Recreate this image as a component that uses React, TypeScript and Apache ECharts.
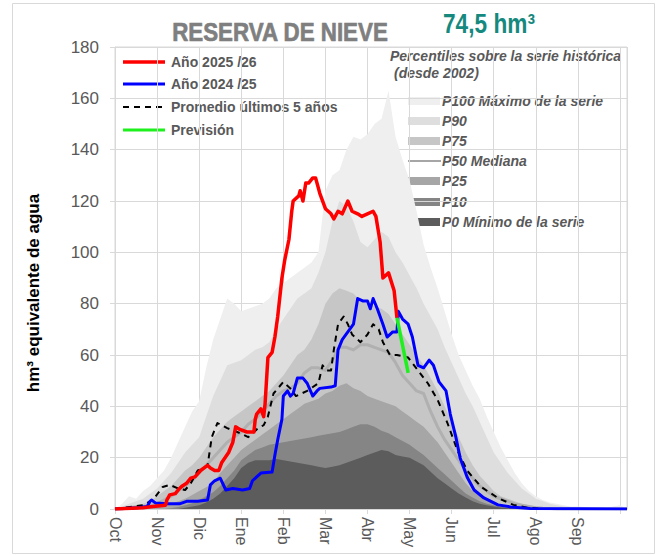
import React, { useEffect, useRef } from "react";
import * as echarts from "echarts";

const monthLabels = ["Oct", "Nov", "Dic", "Ene", "Feb", "Mar", "Abr", "May", "Jun", "Jul", "Ago", "Sep"];

// day of hydrological year (0 = 1 Oct) for percentile curves
const pctDays = [
  0, 5, 10, 15, 20, 25, 30, 35, 40, 45,
  50, 55, 60, 65, 70, 75, 80, 85, 90, 95,
  100, 105, 110, 115, 120, 125, 130, 135, 140, 145,
  150, 155, 160, 165, 170, 175, 180, 185, 190, 195,
  200, 205, 210, 215, 220, 225, 230, 235, 240, 245,
  250, 255, 260, 265, 270, 275, 280, 285, 290, 295,
  300, 305, 310, 315, 320, 325, 330, 335, 340, 345,
  350, 355, 360, 365,
];

const p100 = [
  0, 2, 5, 4, 7, 9, 12, 15, 20, 26,
  32, 38, 42, 55, 66, 74, 82, 80, 77, 78,
  79, 80, 82, 86, 88, 90, 92, 94, 96, 100,
  124, 130, 132, 140, 145, 144, 146, 150, 152, 163,
  145, 136, 128, 116, 103, 94, 86, 77, 68, 60,
  54, 48, 43, 36, 30, 24, 19, 14, 10, 7,
  5, 3.5, 2.5, 2, 1.5, 1, 1, 0.8, 0.5, 0.5,
  0.5, 1, 1.5, 0,
];
const p90 = [
  0, 1, 2, 3, 4, 6, 8, 11, 14, 18,
  22, 25, 28, 36, 44, 50, 56, 57, 58, 60,
  62, 63, 65, 70, 74, 78, 82, 84, 86, 92,
  100, 112, 120, 118, 112, 104, 102, 105, 108, 106,
  100, 96, 91, 86, 80, 75, 70, 63, 57, 51,
  45, 40, 34, 28, 22, 18, 14, 11, 8, 6,
  4, 3, 2, 1.5, 1, 0.8, 0.5, 0.3, 0.2, 0,
  0, 0.3, 0.5, 0,
];
const p75 = [
  0, 0.5, 1, 1.5, 2, 3, 5, 7, 9, 12,
  15, 17, 20, 24, 28, 31, 34, 36, 38, 40,
  42, 44, 46, 49, 52, 56, 60, 62, 66, 72,
  80, 84, 86, 85, 84, 81, 80, 79, 78, 76,
  72, 68, 64, 60, 56, 51, 46, 40, 34, 28,
  22, 17, 13, 10, 7, 5, 4, 3, 2, 1.5,
  1, 0.8, 0.6, 0.5, 0.3, 0.2, 0.1, 0, 0, 0,
  0, 0, 0, 0,
];
const p50 = [
  0, 0, 0.5, 0.8, 1, 1.5, 2, 3.5, 5, 7,
  9, 11, 14, 17, 20, 23, 26, 28, 30, 33,
  35, 38, 41, 44, 46, 47, 49, 53, 55, 55,
  54, 58, 63, 63, 62, 64, 64, 63, 62, 61,
  57, 52, 49, 46, 45, 38, 32, 27, 23, 19,
  15, 12, 9, 7, 5, 4, 3, 2, 1.5, 1,
  0.5, 0.3, 0.2, 0, 0, 0, 0, 0, 0, 0,
  0, 0, 0, 0,
];
const p25 = [
  0, 0, 0, 0.3, 0.5, 0.8, 1, 1.5, 2, 3,
  4, 5.5, 7, 8.5, 10, 14, 17, 20, 23, 25,
  27, 29, 31, 33, 35, 37, 39, 41, 42, 43,
  45, 46, 48, 49, 47, 46, 44, 43, 42, 41,
  40, 38, 36, 34, 32, 29, 26, 22, 18, 14,
  10, 7, 5, 3.5, 2.5, 1.8, 1, 0.7, 0.5, 0.3,
  0.2, 0, 0, 0, 0, 0, 0, 0, 0, 0,
  0, 0, 0, 0,
];
const p10 = [
  0, 0, 0, 0, 0, 0, 0, 0, 0.3, 0.8,
  1.5, 2.2, 3.5, 5, 6.5, 9, 12, 15, 19, 21,
  23, 24, 25, 25.5, 26, 26.5, 27, 27.5, 28, 28.5,
  29, 29.5, 30, 31, 32, 33, 33, 32, 30.5, 29.5,
  28, 26.5, 25, 23, 21, 18.5, 16, 13.5, 11, 8.5,
  6, 4.5, 3, 2, 1.5, 1, 0.5, 0.3, 0.2, 0,
  0, 0, 0, 0, 0, 0, 0, 0, 0, 0,
  0, 0, 0, 0,
];
const p0 = [
  0, 0, 0, 0, 0, 0, 0, 0, 0, 0,
  0.5, 1, 1.5, 2.5, 4, 6, 9, 12, 16, 18,
  19, 19, 19, 19.5, 19, 18.5, 18, 17.5, 17, 16.5,
  16, 16.5, 17, 18, 19, 20, 21, 22, 23, 22.5,
  21, 20.5, 20, 18.5, 17, 14.5, 12, 10, 8, 6,
  4.5, 3, 2, 1.5, 1, 0.6, 0.3, 0.1, 0, 0,
  0, 0, 0, 0, 0, 0, 0, 0, 0, 0,
  0, 0, 0, 0,
];

// Año 2025/26
const redDays = [0, 20, 27, 36, 37, 39, 43, 46, 48, 51, 54, 57, 61, 66, 68, 71, 74, 76, 81, 84, 86, 89, 94, 99, 100, 101, 104, 106, 107, 109, 112, 114, 116, 119, 121, 124, 126, 127, 131, 132, 134, 136, 138, 141, 143, 146, 150, 154, 156, 159, 162, 166, 169, 173, 176, 180, 184, 186, 189, 191, 195, 199, 201];
const redValues = [0, 0.5, 1, 1.5, 3.5, 5.5, 6, 8, 9, 10, 12, 12.5, 15, 17, 16, 15, 15, 18, 22, 26, 32, 31, 30, 30, 35, 37, 39, 36, 41, 59, 61, 67, 75, 90, 97, 105, 116, 120, 122, 124, 120, 127, 127, 129, 129, 123, 117, 115, 113, 116, 115, 120, 116, 115, 114, 115, 116, 114, 104, 90, 92, 85, 74.5];

// Año 2024/25
const blueDays = [0, 16, 23, 25, 26, 29, 37, 46, 51, 59, 66, 68, 71, 75, 79, 84, 91, 96, 98, 101, 104, 112, 114, 116, 119, 120, 123, 125, 127, 130, 134, 137, 141, 144, 146, 154, 157, 159, 162, 166, 170, 173, 177, 180, 182, 184, 187, 191, 194, 198, 201, 202, 205, 209, 212, 216, 220, 224, 227, 231, 236, 239, 243, 246, 251, 256, 263, 273, 282, 296, 365];
const blueValues = [0, 0.5, 1, 3, 3.5, 2.3, 2, 2, 3, 3, 3.5, 9.4, 11, 12, 7.4, 8, 7.4, 8, 11, 12.5, 14, 14.4, 21, 27, 35, 44, 46, 44, 45, 51, 51, 49, 44, 46, 47, 47.5, 48, 62, 66, 69, 72, 82, 81, 81, 78, 82, 78, 72, 67, 69, 69, 77, 74, 72, 67, 56, 55, 58, 56, 49.5, 46, 37, 28, 20, 12.5, 7.4, 4.3, 1.6, 0.8, 0.2, 0];

// Promedio últimos 5 años
const avgDays = [0, 20, 27, 34, 39, 45, 50, 54, 59, 63, 66, 69, 73, 80, 89, 95, 101, 106, 109, 113, 120, 125, 129, 137, 145, 148, 151, 154, 156, 159, 163, 166, 169, 173, 175, 180, 184, 188, 191, 196, 201, 209, 216, 223, 230, 237, 244, 251, 261, 273, 284, 294, 306, 365];
const avgValues = [0, 1.5, 3.5, 8.6, 9.4, 8, 7.4, 10, 15, 16, 17, 28, 33.5, 31.5, 29.6, 28, 31, 32.7, 36, 45, 49.5, 47, 44, 46, 49, 56, 54, 54, 62, 72, 75, 72, 68, 66, 65, 68, 72, 70, 65, 60, 60, 59, 54, 49, 42.5, 33.5, 23, 15, 8.6, 4.3, 1.6, 0.5, 0, 0];

// Previsión
const forecastDays = [201, 209];
const forecastValues = [74.5, 53];

const pctColors = {
  p100: "#efefef",
  p90: "#dedede",
  p75: "#c6c6c6",
  p50: "#b0b0b0",
  p25: "#a6a6a6",
  p10: "#858585",
  p0: "#5c5c5c",
};

const zip = (xs: number[], ys: number[]) => xs.map((x, i) => [x, ys[i]]);

function areaSeries(name: string, vals: number[], color: string) {
  return {
    name,
    type: "line",
    data: zip(pctDays, vals),
    symbol: "none",
    lineStyle: { width: 0, color },
    itemStyle: { color },
    areaStyle: { color, opacity: 1 },
    silent: true,
  };
}

function lineSeries(name: string, xs: number[], ys: number[], color: string, width: number, type: any = "solid") {
  return {
    name,
    type: "line",
    data: zip(xs, ys),
    symbol: "none",
    lineStyle: { width, color, type, cap: "butt", join: "round" },
    itemStyle: { color },
    silent: true,
  };
}

const FONT = "'Liberation Sans', Arial, sans-serif";
const GRAY = "#595959";

export default function App() {
  const ref = useRef<HTMLDivElement>(null);
  useEffect(() => {
    document.body.style.margin = "0";
    const chart = echarts.init(ref.current!, null, { renderer: "svg" });

    const leftLegend = [
      { label: "Año 2025 /26", color: "#ff0000", dash: null, width: 3.5 },
      { label: "Año 2024 /25", color: "#0000ff", dash: null, width: 3 },
      { label: "Promedio últimos 5 años", color: "#000000", dash: [6, 5], width: 2 },
      { label: "Previsión", color: "#1ef01e", dash: null, width: 3 },
    ];
    const leftRows = [62, 84, 107, 130];

    const rightLegend = [
      { label: "P100 Máximo de la serie", color: pctColors.p100, line: false },
      { label: "P90", color: pctColors.p90, line: false },
      { label: "P75", color: pctColors.p75, line: false },
      { label: "P50 Mediana", color: "#a6a6a6", line: true },
      { label: "P25", color: pctColors.p25, line: false },
      { label: "P10", color: pctColors.p10, line: false },
      { label: "P0 Mínimo de la serie", color: pctColors.p0, line: false },
    ];
    const rightRows = [101, 121, 141, 161, 181, 202, 222];

    const graphics: any[] = [
      {
        type: "rect",
        shape: { x: 12.5, y: 3.5, width: 642, height: 550 },
        style: { fill: "none", stroke: "#d9d9d9", lineWidth: 1 },
        z: 0,
        silent: true,
      },
      {
        type: "text",
        x: 280,
        y: 32,
        scaleX: 0.86,
        style: {
          text: "RESERVA DE NIEVE",
          align: "center",
          verticalAlign: "middle",
          fontSize: 26,
          fontWeight: "bold",
          fontFamily: FONT,
          fill: "#7f7f7f",
          stroke: "#7f7f7f",
          lineWidth: 0.7,
        },
      },
      {
        type: "text",
        x: 489,
        y: 23,
        scaleX: 0.84,
        style: {
          text: "74,5 hm³",
          align: "center",
          verticalAlign: "middle",
          fontSize: 27,
          fontWeight: "bold",
          fontFamily: FONT,
          fill: "#16897e",
        },
      },
      {
        type: "text",
        x: 33,
        y: 293,
        rotation: Math.PI / 2,
        style: {
          text: "hm³ equivalente de agua",
          align: "center",
          verticalAlign: "middle",
          fontSize: 17,
          fontWeight: "bold",
          fontFamily: FONT,
          fill: "#000000",
        },
      },
      {
        type: "text",
        x: 390,
        y: 56,
        style: {
          text: "Percentiles sobre la serie histórica",
          align: "left",
          verticalAlign: "middle",
          fontSize: 14,
          fontWeight: "bold",
          fontStyle: "italic",
          fontFamily: FONT,
          fill: GRAY,
        },
      },
      {
        type: "text",
        x: 394,
        y: 73,
        style: {
          text: "(desde 2002)",
          align: "left",
          verticalAlign: "middle",
          fontSize: 14,
          fontWeight: "bold",
          fontStyle: "italic",
          fontFamily: FONT,
          fill: GRAY,
        },
      },
    ];

    leftLegend.forEach((e, i) => {
      const y = leftRows[i];
      graphics.push({
        type: "line",
        shape: { x1: 123, y1: y, x2: 165, y2: y },
        style: { stroke: e.color, lineWidth: e.width, lineDash: e.dash || undefined },
      });
      graphics.push({
        type: "text",
        x: 171,
        y,
        style: {
          text: e.label,
          align: "left",
          verticalAlign: "middle",
          fontSize: 14,
          fontWeight: "bold",
          fontFamily: FONT,
          fill: GRAY,
        },
      });
    });

    rightLegend.forEach((e, i) => {
      const y = rightRows[i];
      if (e.line) {
        graphics.push({
          type: "line",
          shape: { x1: 408, y1: y, x2: 441, y2: y },
          style: { stroke: e.color, lineWidth: 2 },
        });
      } else {
        graphics.push({
          type: "rect",
          shape: { x: 408, y: y - 4, width: 32, height: 8 },
          style: { fill: e.color },
        });
      }
      graphics.push({
        type: "text",
        x: 442,
        y,
        style: {
          text: e.label,
          align: "left",
          verticalAlign: "middle",
          fontSize: 14,
          fontWeight: "bold",
          fontStyle: "italic",
          fontFamily: FONT,
          fill: GRAY,
        },
      });
    });

    const option: any = {
      animation: false,
      backgroundColor: "#ffffff",
      grid: {
        left: 115,
        right: 35,
        top: 47,
        bottom: 46,
        show: true,
        borderColor: "#d9d9d9",
        borderWidth: 1,
        backgroundColor: "transparent",
      },
      xAxis: {
        type: "value",
        min: 0,
        max: 365,
        interval: 30,
        axisLine: { show: true, lineStyle: { color: "#d9d9d9", width: 1 } },
        axisTick: { show: true, length: 5, lineStyle: { color: "#d9d9d9" } },
        splitLine: { show: true, lineStyle: { color: "#d9d9d9", width: 1 } },
        axisLabel: {
          rotate: -90,
          margin: 8,
          fontSize: 16,
          fontFamily: FONT,
          color: GRAY,
          showMaxLabel: false,
          formatter: (v: number) => {
            const k = Math.round(v / 30);
            return v % 30 === 0 && k < monthLabels.length ? monthLabels[k] : "";
          },
        },
      },
      yAxis: {
        type: "value",
        min: 0,
        max: 180,
        interval: 20,
        axisLine: { show: true, lineStyle: { color: "#d9d9d9", width: 1 } },
        axisTick: { show: true, length: 5, lineStyle: { color: "#d9d9d9" } },
        splitLine: { show: true, lineStyle: { color: "#d9d9d9", width: 1 } },
        axisLabel: { fontSize: 17, fontFamily: FONT, color: GRAY, margin: 16 },
      },
      series: [
        areaSeries("P100 Máximo de la serie", p100, pctColors.p100),
        areaSeries("P90", p90, pctColors.p90),
        areaSeries("P75", p75, pctColors.p75),
        areaSeries("P25", p25, pctColors.p25),
        areaSeries("P10", p10, pctColors.p10),
        areaSeries("P0 Mínimo de la serie", p0, pctColors.p0),
        lineSeries("P50 Mediana", pctDays, p50, pctColors.p50, 3),
        lineSeries("Promedio últimos 5 años", avgDays, avgValues, "#000000", 2, [6, 5]),
        lineSeries("Año 2024 /25", blueDays, blueValues, "#0000ff", 3),
        lineSeries("Año 2025 /26", redDays, redValues, "#ff0000", 3.5),
        lineSeries("Previsión", forecastDays, forecastValues, "#1ef01e", 3.5),
      ],
      graphic: graphics,
    };

    chart.setOption(option);
    return () => chart.dispose();
  }, []);

  return (
    <div
      ref={ref}
      style={{ width: 662, height: 555, position: "absolute", left: 0, top: 0, background: "#fff" }}
    />
  );
}
